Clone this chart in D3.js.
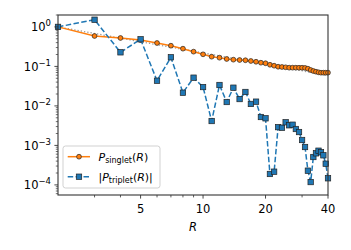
<!DOCTYPE html>
<html>
<head>
<meta charset="utf-8">
<script src="https://cdn.jsdelivr.net/npm/d3@7"></script>
<style>
  body { margin: 0; background: #fff; }
  svg { display: block; font-family: "DejaVu Sans", sans-serif; }
</style>
</head>
<body>
<svg id="chart" width="351" height="250"></svg>
<script>
// separation R (integer sites)
var rValues = d3.range(2, 41);

// P_singlet(R)
var singletValues = [1.0, 0.588, 0.524, 0.466, 0.391, 0.334, 0.281, 0.236, 0.202, 0.176,
  0.166, 0.154, 0.148, 0.145, 0.143, 0.137, 0.131, 0.124, 0.120, 0.110,
  0.104, 0.098, 0.0966, 0.0949, 0.0927, 0.0927, 0.0927, 0.0925, 0.0925, 0.0915,
  0.0875, 0.081, 0.0764, 0.0734, 0.0709, 0.0692, 0.0692, 0.0692, 0.0695];

// |P_triplet(R)|
var tripletValues = [1.0, 1.52, 0.227, 0.485, 0.0434, 0.170, 0.0216, 0.0518, 0.030, 0.00414,
  0.0338, 0.01254, 0.0289, 0.0149, 0.0225, 0.0112, 0.0128, 0.00523, 0.00485, 0.000189,
  0.000216, 0.0029, 0.0028, 0.00385, 0.00323, 0.00334, 0.0026, 0.00218, 0.00137, 0.00091,
  0.000229, 0.000118, 0.000508, 0.00063, 0.000734, 0.000668, 0.000561, 0.000344, 0.000147];

// gray dotted reference line (end points)
var refR = [2, 40];
var refValues = [1.0, 0.059];

var xTickLabels = [5, 10, 20, 40];
var yTickLabels = [0, -1, -2, -3, -4];

var margin = {left: 58, right: 23, top: 15, bottom: 55};
var width = 351, height = 250;

var svg = d3.select("#chart");

var x = d3.scaleLog().domain([2, 40]).range([margin.left, width - margin.right]);
var y = d3.scaleLog().domain([5.55e-5, 2]).range([height - margin.bottom, margin.top]);

var orange = "#ff7f0e", blue = "#1f77b4";

// reference line
svg.append("path")
  .datum(refR.map(function (r, i) { return [r, refValues[i]]; }))
  .attr("fill", "none")
  .attr("stroke", "#999")
  .attr("stroke-width", 1.3)
  .attr("stroke-dasharray", "1.3,2")
  .attr("d", d3.line().x(function (d) { return x(d[0]); }).y(function (d) { return y(d[1]); }));

var singlet = rValues.map(function (r, i) { return [r, singletValues[i]]; });
var triplet = rValues.map(function (r, i) { return [r, tripletValues[i]]; });

var line = d3.line().x(function (d) { return x(d[0]); }).y(function (d) { return y(d[1]); });

svg.append("path").datum(singlet)
  .attr("fill", "none").attr("stroke", orange).attr("stroke-width", 1.5)
  .attr("d", line);

svg.selectAll("circle.singlet").data(singlet).enter().append("circle")
  .attr("class", "singlet")
  .attr("cx", function (d) { return x(d[0]); })
  .attr("cy", function (d) { return y(d[1]); })
  .attr("r", 2.4)
  .attr("fill", orange).attr("stroke", "#222").attr("stroke-width", 0.7);

svg.append("path").datum(triplet)
  .attr("fill", "none").attr("stroke", blue).attr("stroke-width", 1.5)
  .attr("stroke-dasharray", "5.5,2.4")
  .attr("d", line);

svg.selectAll("rect.triplet").data(triplet).enter().append("rect")
  .attr("class", "triplet")
  .attr("x", function (d) { return x(d[0]) - 2.7; })
  .attr("y", function (d) { return y(d[1]) - 2.7; })
  .attr("width", 5.4).attr("height", 5.4)
  .attr("fill", blue).attr("stroke", "#222").attr("stroke-width", 0.7);

// spines
var x0 = margin.left, x1 = width - margin.right;
var y0 = height - margin.bottom, y1 = margin.top;
svg.append("rect")
  .attr("x", x0).attr("y", y1).attr("width", x1 - x0).attr("height", y0 - y1)
  .attr("fill", "none").attr("stroke", "#333").attr("stroke-width", 1.1);

// x ticks
var xMinor = [3, 4, 6, 7, 8, 9, 30];
svg.selectAll("line.xminor").data(xMinor).enter().append("line")
  .attr("x1", function (d) { return x(d); }).attr("x2", function (d) { return x(d); })
  .attr("y1", y0).attr("y2", y0 + 2.4)
  .attr("stroke", "#333").attr("stroke-width", 0.8);
svg.selectAll("line.xmajor").data(xTickLabels).enter().append("line")
  .attr("x1", function (d) { return x(d); }).attr("x2", function (d) { return x(d); })
  .attr("y1", y0).attr("y2", y0 + 3.6)
  .attr("stroke", "#333").attr("stroke-width", 0.9);
svg.selectAll("text.xlab").data(xTickLabels).enter().append("text")
  .attr("x", function (d) { return x(d); })
  .attr("y", y0 + 18)
  .attr("text-anchor", "middle")
  .attr("font-size", 11.5)
  .text(function (d) { return d; });

svg.append("text")
  .attr("x", (x0 + x1) / 2).attr("y", y0 + 36)
  .attr("text-anchor", "middle")
  .attr("font-size", 11.5).attr("font-style", "italic")
  .text("R");

// y ticks
var yMinor = [];
[-5, -4, -3, -2, -1, 0].forEach(function (e) {
  for (var k = 2; k <= 9; k++) {
    var v = k * Math.pow(10, e);
    if (v >= y.domain()[0] && v <= y.domain()[1]) yMinor.push(v);
  }
});
svg.selectAll("line.yminor").data(yMinor).enter().append("line")
  .attr("x1", x0 - 2.2).attr("x2", x0)
  .attr("y1", function (d) { return y(d); }).attr("y2", function (d) { return y(d); })
  .attr("stroke", "#333").attr("stroke-width", 0.7);
svg.selectAll("line.ymajor").data(yTickLabels).enter().append("line")
  .attr("x1", x0 - 3.6).attr("x2", x0)
  .attr("y1", function (d) { return y(Math.pow(10, d)); }).attr("y2", function (d) { return y(Math.pow(10, d)); })
  .attr("stroke", "#333").attr("stroke-width", 0.9);

var ylab = svg.selectAll("text.ylab").data(yTickLabels).enter().append("text")
  .attr("x", x0 - 7)
  .attr("y", function (d) { return y(Math.pow(10, d)) + 4.5; })
  .attr("text-anchor", "end")
  .attr("font-size", 11.5);
ylab.append("tspan").text("10");
ylab.append("tspan").attr("dy", -5).attr("font-size", 8.5)
  .text(function (d) { return d === 0 ? "0" : "\u2212" + (-d); });

// legend
var lg = svg.append("g").attr("transform", "translate(63,146)");
lg.append("rect")
  .attr("width", 97).attr("height", 42).attr("rx", 2.5)
  .attr("fill", "#fff").attr("fill-opacity", 0.8)
  .attr("stroke", "#ccc").attr("stroke-width", 0.9);

var rows = [
  {color: orange, dash: null, shape: "circle", pre: "", sub: "singlet", post: "(R)", end: ""},
  {color: blue, dash: "5.5,2.4", shape: "square", pre: "|", sub: "triplet", post: "(R)", end: "|"}
];
rows.forEach(function (row, i) {
  var cy = 10.7 + i * 20;
  lg.append("line").attr("x1", 4.7).attr("x2", 27).attr("y1", cy).attr("y2", cy)
    .attr("stroke", row.color).attr("stroke-width", 1.5)
    .attr("stroke-dasharray", row.dash);
  if (row.shape === "circle") {
    lg.append("circle").attr("cx", 16).attr("cy", cy).attr("r", 2.4)
      .attr("fill", row.color).attr("stroke", "#222").attr("stroke-width", 0.7);
  } else {
    lg.append("rect").attr("x", 16 - 2.7).attr("y", cy - 2.7).attr("width", 5.4).attr("height", 5.4)
      .attr("fill", row.color).attr("stroke", "#222").attr("stroke-width", 0.7);
  }
  var t = lg.append("text").attr("x", 35.5).attr("y", cy + 4).attr("font-size", 11);
  if (row.pre) t.append("tspan").text(row.pre);
  t.append("tspan").attr("font-style", "italic").text("P");
  t.append("tspan").attr("font-size", 8).attr("dy", 2.5).text(row.sub);
  t.append("tspan").attr("dy", -2.5).text("(");
  t.append("tspan").attr("font-style", "italic").text("R");
  t.append("tspan").text(")" + row.end);
});
</script>
</body>
</html>
